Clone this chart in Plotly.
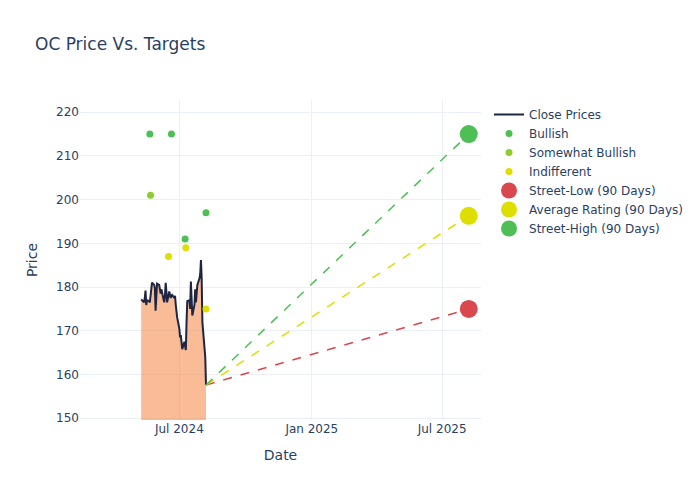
import pandas as pd
import plotly.graph_objects as go

# Close prices (business days starting 2024-05-09)
price_start = "2024-05-09"
close_prices = [
    177.2, 177.0, 176.5, 177.5, 179.2, 175.9, 177.0, 176.8, 176.5, 178.0,
    179.5, 181.0, 180.5, 179.8, 174.6, 177.0, 180.8, 180.5, 179.5, 178.5,
    179.5, 178.5, 176.5, 178.0, 181.0, 179.0, 176.5, 179.0, 178.0, 177.5,
    178.0, 178.2, 177.5, 178.0, 176.0, 173.6, 173.0, 170.5, 168.5, 169.0,
    167.0, 165.8, 167.5, 166.8, 165.6, 172.0, 176.8, 177.0, 175.0, 181.3,
    177.0, 173.5, 176.0, 179.5, 176.5, 179.5, 180.5, 182.0, 183.0, 186.2,
    182.0, 172.0, 167.0, 164.0, 157.6,
]
price_dates = pd.bdate_range(price_start, periods=len(close_prices))

# Analyst ratings
bullish_dates = ["2024-05-21", "2024-06-20", "2024-07-09", "2024-08-07"]
bullish_values = [215, 215, 191, 197]
somewhat_dates = ["2024-05-22"]
somewhat_values = [201]
indiff_dates = ["2024-06-16", "2024-07-10", "2024-08-07"]
indiff_values = [187, 189, 175]

# 90-day targets
target_date = "2025-08-07"
street_low = 175.0
avg_rating = 196.3
street_high = 215.0

c_line = "#1c2541"
c_fill = "rgba(246,126,54,0.52)"
c_green = "#4dbf55"
c_sbull = "#8fcc2e"
c_yellow = "#dede00"
c_red = "#d9474f"

fig = go.Figure()
fig.add_trace(go.Scatter(
    x=price_dates, y=close_prices, mode="lines", showlegend=False,
    line=dict(width=0), fill="tozeroy", fillcolor=c_fill, hoverinfo="skip",
))
fig.add_trace(go.Scatter(
    x=price_dates, y=close_prices, mode="lines", name="Close Prices",
    line=dict(color=c_line, width=2),
))
fig.add_trace(go.Scatter(x=bullish_dates, y=bullish_values, mode="markers",
                         name="Bullish", marker=dict(color=c_green, size=7)))
fig.add_trace(go.Scatter(x=somewhat_dates, y=somewhat_values, mode="markers",
                         name="Somewhat Bullish", marker=dict(color=c_sbull, size=7)))
fig.add_trace(go.Scatter(x=indiff_dates, y=indiff_values, mode="markers",
                         name="Indifferent", marker=dict(color=c_yellow, size=7)))

last_date = price_dates[-1]
last_price = close_prices[-1]
targets = [("Street-Low (90 Days)", street_low, c_red),
           ("Average Rating (90 Days)", avg_rating, c_yellow),
           ("Street-High (90 Days)", street_high, c_green)]
for name, val, col in targets:
    fig.add_trace(go.Scatter(x=[last_date, target_date], y=[last_price, val],
                             mode="lines", line=dict(color=col, dash="dash", width=1.5),
                             showlegend=False, hoverinfo="skip"))
for name, val, col in targets:
    fig.add_trace(go.Scatter(x=[target_date], y=[val], mode="markers", name=name,
                             marker=dict(color=col, size=18)))

fig.update_layout(
    template="plotly_white",
    width=700, height=500,
    font=dict(family="DejaVu Sans"),
    title=dict(text="OC Price Vs. Targets"),
    xaxis=dict(title="Date", range=["2024-02-14", "2025-08-24"],
               dtick="M6", tick0="2024-01-01", tickformat="%b %Y"),
    yaxis=dict(title="Price", range=[149.6, 222.8]),
)
fig.write_html("out.html", config={"displayModeBar": False},
               post_script="document.body.style.margin='0';")
